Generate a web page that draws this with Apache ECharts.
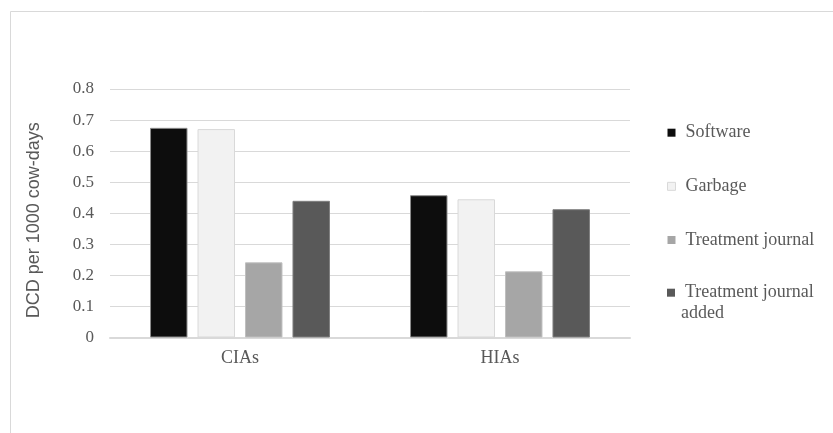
<!DOCTYPE html>
<html>
<head>
<meta charset="utf-8">
<script src="https://cdn.jsdelivr.net/npm/echarts@6/dist/echarts.min.js"></script>
<style>
  html, body { margin: 0; padding: 0; background: #ffffff; }
  #chart { width: 833px; height: 433px; }
</style>
</head>
<body>
<div id="chart"></div>
<script>
// Dead cow days per 1000 cow-days by data source and area type
const categories = ['CIAs', 'HIAs'];
const seriesNames = ['Software', 'Garbage', 'Treatment journal', 'Treatment journal added'];
const software = [0.675, 0.458];
const garbage = [0.671, 0.445];
const treatmentJournal = [0.242, 0.213];
const treatmentJournalAdded = [0.440, 0.413];
const yTicks = [0, 0.1, 0.2, 0.3, 0.4, 0.5, 0.6, 0.7, 0.8];

const fills = ['#0d0d0d', '#f2f2f2', '#a6a6a6', '#595959'];
const edges = ['#8c8c8c', '#d9d9d9', '#bfbfbf', '#7f7f7f'];
const values = [software, garbage, treatmentJournal, treatmentJournalAdded];

const serif = '"Liberation Serif", "Times New Roman", serif';
const textGrey = '#595959';

const chart = echarts.init(document.getElementById('chart'), null, { renderer: 'canvas' });

const series = seriesNames.map((name, i) => ({
  name: name,
  type: 'bar',
  data: values[i],
  barGap: '26.7%',
  barCategoryGap: '30.8%',
  itemStyle: { color: fills[i], borderColor: edges[i], borderWidth: 1 },
  emphasis: { disabled: true }
}));

// The pale swatch keeps a thin outline so it stays visible on white
const legendItems = seriesNames.map((name, i) => (
  i === 1
    ? { name: name, itemStyle: { borderColor: edges[i], borderWidth: 1 } }
    : { name: name }
));

// Square marker sitting beside the first of two text lines (box 8 x 42)
const topSquareIcon = 'path://M0,0 M0,6.5 L8,6.5 L8,14.5 L0,14.5 Z M8,42';

chart.setOption({
  animation: false,
  backgroundColor: '#ffffff',
  graphic: [{
    type: 'rect',
    shape: { x: 10.5, y: 11.5, width: 900, height: 500 },
    style: { fill: 'none', stroke: '#d9d9d9', lineWidth: 1 },
    silent: true,
    z: -1
  }],
  grid: { left: 110, right: 203, top: 89, bottom: 95.5, containLabel: false },
  xAxis: {
    type: 'category',
    data: categories,
    axisLine: { show: true, lineStyle: { color: '#d9d9d9', width: 2 } },
    axisTick: { show: false },
    axisLabel: { color: textGrey, fontFamily: serif, fontSize: 18, margin: 12 },
    splitLine: { show: false }
  },
  yAxis: {
    type: 'value',
    min: yTicks[0],
    max: yTicks[yTicks.length - 1],
    interval: 0.1,
    name: 'DCD per 1000 cow-days',
    nameLocation: 'middle',
    nameRotate: 90,
    nameGap: 67,
    nameTextStyle: {
      color: textGrey,
      fontFamily: '"Liberation Sans", Arial, sans-serif',
      fontSize: 18,
      padding: [0, 14, 0, 0]
    },
    axisLine: { show: false },
    axisTick: { show: false },
    axisLabel: {
      color: textGrey,
      fontFamily: serif,
      fontSize: 17,
      margin: 16,
      formatter: v => (v === 0 ? '0' : v.toFixed(1))
    },
    splitLine: { show: true, lineStyle: { color: '#d9d9d9', width: 1 } }
  },
  legend: [{
    data: legendItems.slice(0, 3),
    orient: 'vertical',
    left: 667,
    top: 122.7,
    padding: 0,
    itemWidth: 8,
    itemHeight: 8,
    itemGap: 33.65,
    icon: 'rect',
    itemStyle: { borderWidth: 0 },
    selectedMode: false,
    textStyle: { color: textGrey, fontFamily: serif, fontSize: 18, lineHeight: 20, padding: [0, 0, 0, 5] }
  }, {
    data: legendItems.slice(3),
    orient: 'vertical',
    left: 667,
    top: 282.2,
    padding: 0,
    itemWidth: 8,
    itemHeight: 42,
    icon: topSquareIcon,
    itemStyle: { borderWidth: 0 },
    selectedMode: false,
    formatter: name => {
      const cut = name.lastIndexOf(' ');
      return '{a|' + name.slice(0, cut) + '}\n{b|' + name.slice(cut + 1) + '}';
    },
    textStyle: {
      color: textGrey, fontFamily: serif, fontSize: 18, lineHeight: 21, padding: [0, 0, 0, 1],
      rich: {
        a: { color: textGrey, fontFamily: serif, fontSize: 18, lineHeight: 21, padding: [0, 0, 0, 4] },
        b: { color: textGrey, fontFamily: serif, fontSize: 18, lineHeight: 21 }
      }
    }
  }],
  series: series
});
</script>
</body>
</html>
